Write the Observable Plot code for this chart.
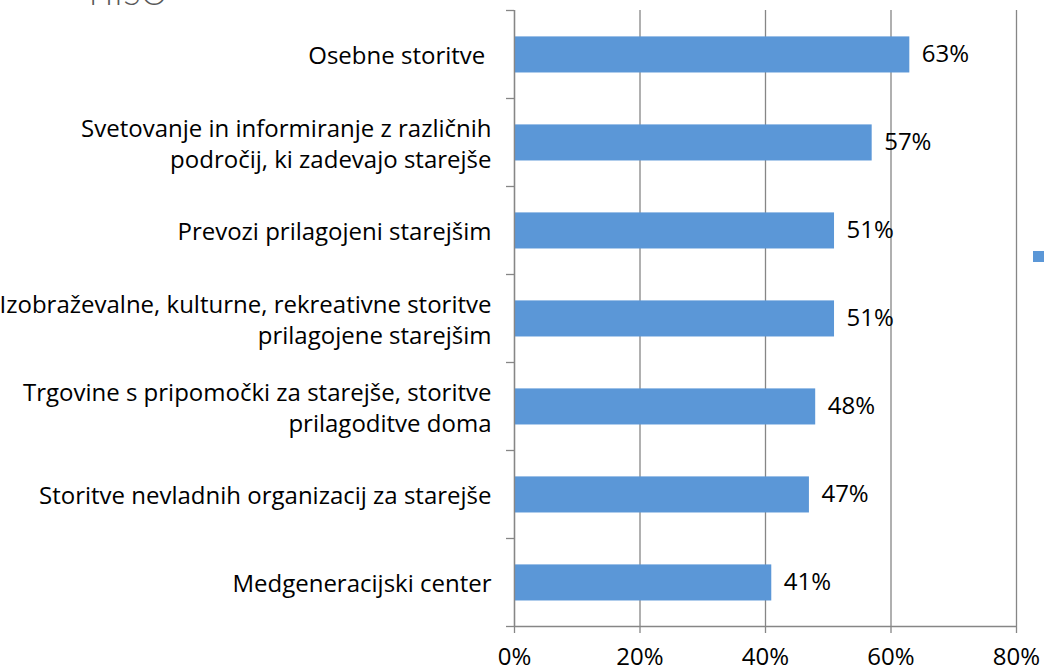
<!DOCTYPE html>
<html>
<head>
<meta charset="utf-8">
<script src="https://cdn.jsdelivr.net/npm/d3@7"></script>
<script src="https://cdn.jsdelivr.net/npm/@observablehq/plot@0.6"></script>
<style>
  html, body { margin: 0; padding: 0; background: #fff; }
  #wrap { position: relative; width: 1044px; height: 671px; overflow: hidden; }
  #title { position: absolute; left: 89px; top: -27px; font-family: Lato, sans-serif; font-weight: 300; font-size: 32px; color: #595959; letter-spacing: 1px; }
  #legend { position: absolute; left: 1033px; top: 251px; width: 11px; height: 11px; background: #5B97D7; }
  svg { position: absolute; left: 0; top: 0; }
</style>
</head>
<body>
<div id="wrap">
  <div id="title">HISO</div>
  <div id="legend"></div>
</div>
<script>
const categories = [
  "Osebne storitve ",
  "Svetovanje in informiranje z različnih\npodročij, ki zadevajo starejše",
  "Prevozi prilagojeni starejšim",
  "Izobraževalne, kulturne, rekreativne storitve\nprilagojene starejšim",
  "Trgovine s pripomočki za starejše, storitve\nprilagoditve doma",
  "Storitve nevladnih organizacij za starejše",
  "Medgeneracijski center"
];
const values = [0.63, 0.57, 0.51, 0.51, 0.48, 0.47, 0.41];
const xTicks = [0, 0.2, 0.4, 0.6, 0.8];

const data = categories.map((c, i) => ({category: c, value: values[i], i}));
const boundaries = d3.range(0, categories.length + 1);

const blue = "#5B97D7";
const grey = "#868686";
const font = "'Open Sans', sans-serif";
const fs = 24;

const chart = Plot.plot({
  width: 1044,
  height: 671,
  marginLeft: 514,
  marginRight: 28,
  marginTop: 10,
  marginBottom: 45,
  style: {fontFamily: font, fontSize: fs + "px", color: "#000", background: "transparent", overflow: "visible"},
  x: {domain: [0, 0.8]},
  y: {domain: [0, categories.length], reverse: true},
  marks: [
    Plot.gridX(xTicks, {stroke: grey, strokeOpacity: 1, strokeWidth: 1.3}),
    Plot.rect(data, {x1: 0, x2: "value", y1: d => d.i + 0.3, y2: d => d.i + 0.71, fill: blue}),
    Plot.axisX(xTicks, {tickFormat: d3.format(".0%"), tickSize: 7, stroke: grey, strokeWidth: 1.3, tickPadding: 14, fontSize: fs, fill: "#000", label: null}),
    Plot.axisY(boundaries, {tickFormat: () => "", tickSize: 8, stroke: grey, strokeWidth: 1.3, label: null}),
    Plot.ruleX([0], {stroke: grey, strokeWidth: 1.3}),
    Plot.ruleY([categories.length], {stroke: grey, strokeWidth: 1.3}),
    Plot.text(data, {x: 0, y: d => d.i + 0.5, text: "category", textAnchor: "end", dx: -23, lineHeight: 1.3, fontSize: fs, fill: "#000"}),
    Plot.text(data, {x: "value", y: d => d.i + 0.5, text: d => d3.format(".0%")(d.value), textAnchor: "start", dx: 12, fontSize: fs, fill: "#000"})
  ]
});
document.getElementById("wrap").appendChild(chart);
</script>
</body>
</html>
